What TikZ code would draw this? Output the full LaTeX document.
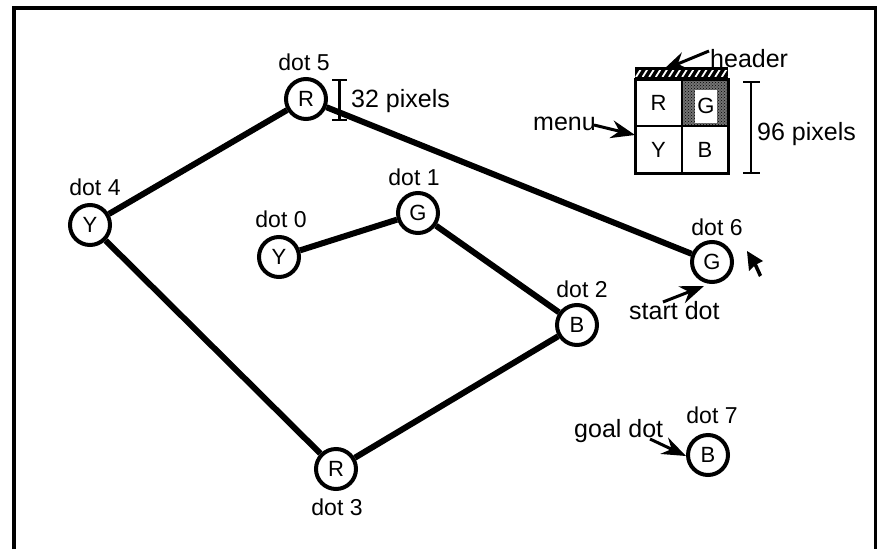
\documentclass[tikz,border=0pt]{standalone}
\usepackage{fontspec}
\setmainfont{Liberation Sans}
\usetikzlibrary{arrows.meta,patterns}
\begin{document}
\begin{tikzpicture}[x=1pt,y=-1pt,
 dotnode/.style={circle,draw,line width=4pt,minimum size=40pt,inner sep=0pt,font=\fontsize{22}{25}\selectfont},
 lbl/.style={inner sep=0pt,anchor=base,font=\fontsize{23}{26}\selectfont},
 note/.style={inner sep=0pt,anchor=base west,font=\fontsize{25}{28}\selectfont},
 edge/.style={line width=6pt},
 fatarrow/.style={line width=3pt,-{Stealth[length=24pt,width=18pt,inset=8pt]}},
 cell/.style={draw,line width=2.2pt,minimum width=46.5pt,minimum height=47pt,inner sep=0pt,font=\fontsize{22}{25}\selectfont},
 bracket/.style={line width=2.5pt},
]
\useasboundingbox (0,0) rectangle (877,549);
\draw[line width=3.5pt] (14,549) -- (14,8) -- (875.5,8) -- (875.5,549);

% dots
\node[dotnode] (d0) at (279,257) {Y};
\node[dotnode] (d1) at (418,213) {G};
\node[dotnode] (d2) at (577,325) {B};
\node[dotnode] (d3) at (336,469) {R};
\node[dotnode] (d4) at (90,225) {Y};
\node[dotnode] (d5) at (306,99) {R};
\node[dotnode] (d6) at (712,262) {G};
\node[dotnode] (d7) at (708,455) {B};

\draw[edge] (d0) -- (d1);
\draw[edge] (d1) -- (d2);
\draw[edge] (d2) -- (d3);
\draw[edge] (d3) -- (d4);
\draw[edge] (d4) -- (d5);
\draw[edge] (d5) -- (d6);

% dot labels
\node[lbl] (l0) at (281,227) {dot 0};
\node[lbl] (l1) at (414,185) {dot 1};
\node[lbl] (l2) at (582,297) {dot 2};
\node[lbl] (l3) at (337,515) {dot 3};
\node[lbl] (l4) at (95,195) {dot 4};
\node[lbl] (l5) at (304,70) {dot 5};
\node[lbl] (l6) at (717,235) {dot 6};
\node[lbl] (l7) at (712,423) {dot 7};

% 32 pixels bracket
\draw[bracket] (332,80) -- (347,80) (339.5,80) -- (339.5,120) (332,120) -- (347,120);
\node[note] (t32) at (351,107) {32 pixels};

% menu
\fill (635,67) rectangle (728,79);
\begin{scope}
\clip (635,70) rectangle (728,76.5);
\foreach \i in {0,...,14} \draw[white,line width=1.8pt] ({636+6.6*\i},77) -- ({641+6.6*\i},69);
\end{scope}
\node[cell] (mR) at (658.5,102.5) {R};
\node[cell,fill=black!55] (mG) at (705,102.5) {};
\node[cell,draw=none,pattern=crosshatch dots,pattern color=black,minimum width=44pt,minimum height=45pt] (mGp) at (705,102.5) {};
\node[fill=white,minimum width=22pt,minimum height=33pt,inner sep=0pt,font=\fontsize{22}{25}\selectfont] (mGt) at (706,106) {G};
\node[cell] (mY) at (658.5,149.5) {Y};
\node[cell] (mB) at (705,149.5) {B};
\draw[line width=3pt] (635,79) rectangle (728,173);

% 96 pixels bracket
\draw[bracket] (743,82) -- (760,82) (751,82) -- (751,173) (743,173) -- (760,173);
\node[note] (t96) at (757,140) {96 pixels};

% notes and arrows
\node[note] (thdr) at (710,67) {header};
\coordinate (hA) at (709,51);
\coordinate (hB) at (663,70);
\draw[fatarrow] (hA) -- (hB);

\node[note] (tmenu) at (533,130) {menu};
\coordinate (mA) at (594,125);
\coordinate (mB) at (635,135);
\draw[fatarrow] (mA) -- (mB);

\node[note] (tstart) at (629,319) {start dot};
\coordinate (sA) at (663,302);
\coordinate (sB) at (704,286);
\draw[fatarrow] (sA) -- (sB);

\node[note] (tgoal) at (574,437) {goal dot};
\coordinate (gA) at (650,439);
\coordinate (gB) at (686,456);
\draw[fatarrow] (gA) -- (gB);

% cursor
\fill (747,251) -- (749,271) -- (754,266) -- (759,277) -- (762,275) -- (757,264) -- (763,261) -- cycle;
\end{tikzpicture}
\end{document}
